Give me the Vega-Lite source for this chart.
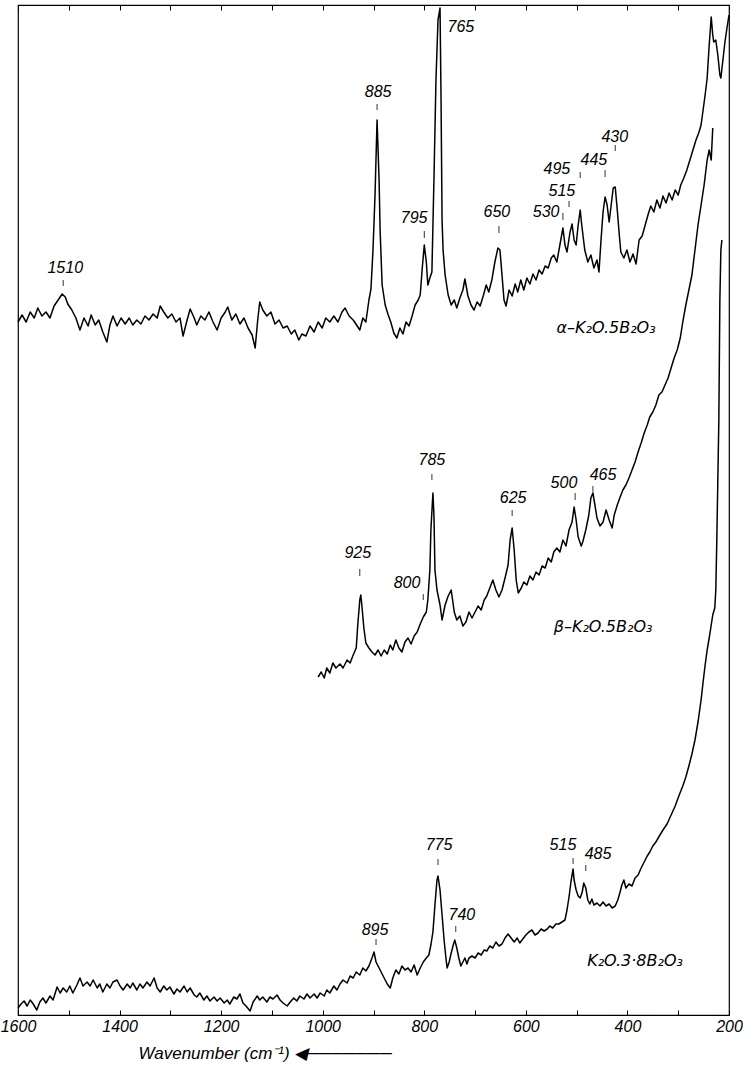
{
"$schema": "https://vega.github.io/schema/vega-lite/v6.json",
"width": 711, "height": 1010,
"autosize": {"type": "none"},
"padding": {"left": 18, "top": 5, "right": 14, "bottom": 51},
"background": "white",
"config": {"view": {"stroke": "black", "strokeWidth": 1.2}, "font": "Liberation Sans, sans-serif"},
"datasets": {
"spec": [
{"s":"a","w":1600,"I":693},{"s":"a","w":1592,"I":700},{"s":"a","w":1584,"I":693},{"s":"a","w":1576,"I":703},{"s":"a","w":1568,"I":697},{"s":"a","w":1561,"I":707},{"s":"a","w":1553,"I":699},{"s":"a","w":1545,"I":703},{"s":"a","w":1537,"I":697},{"s":"a","w":1529,"I":709},{"s":"a","w":1521,"I":715},{"s":"a","w":1513,"I":721},{"s":"a","w":1507,"I":718},{"s":"a","w":1502,"I":711},{"s":"a","w":1494,"I":705},{"s":"a","w":1486,"I":697},{"s":"a","w":1478,"I":685},{"s":"a","w":1470,"I":697},{"s":"a","w":1462,"I":689},{"s":"a","w":1456,"I":700},{"s":"a","w":1448,"I":690},{"s":"a","w":1441,"I":695},{"s":"a","w":1433,"I":683},{"s":"a","w":1425,"I":673},{"s":"a","w":1419,"I":690},{"s":"a","w":1413,"I":699},{"s":"a","w":1405,"I":689},{"s":"a","w":1397,"I":697},{"s":"a","w":1389,"I":691},{"s":"a","w":1381,"I":697},{"s":"a","w":1374,"I":690},{"s":"a","w":1366,"I":695},{"s":"a","w":1358,"I":691},{"s":"a","w":1350,"I":699},{"s":"a","w":1342,"I":695},{"s":"a","w":1334,"I":701},{"s":"a","w":1326,"I":697},{"s":"a","w":1320,"I":709},{"s":"a","w":1313,"I":703},{"s":"a","w":1305,"I":697},{"s":"a","w":1297,"I":701},{"s":"a","w":1289,"I":693},{"s":"a","w":1281,"I":697},{"s":"a","w":1275,"I":679},{"s":"a","w":1267,"I":695},{"s":"a","w":1261,"I":706},{"s":"a","w":1253,"I":697},{"s":"a","w":1248,"I":690},{"s":"a","w":1240,"I":699},{"s":"a","w":1232,"I":695},{"s":"a","w":1224,"I":703},{"s":"a","w":1216,"I":693},{"s":"a","w":1208,"I":685},{"s":"a","w":1200,"I":697},{"s":"a","w":1192,"I":703},{"s":"a","w":1187,"I":708},{"s":"a","w":1179,"I":695},{"s":"a","w":1171,"I":701},{"s":"a","w":1163,"I":691},{"s":"a","w":1155,"I":697},{"s":"a","w":1147,"I":687},{"s":"a","w":1139,"I":680},{"s":"a","w":1133,"I":667},{"s":"a","w":1128,"I":695},{"s":"a","w":1124,"I":713},{"s":"a","w":1118,"I":705},{"s":"a","w":1110,"I":699},{"s":"a","w":1102,"I":703},{"s":"a","w":1094,"I":691},{"s":"a","w":1086,"I":695},{"s":"a","w":1078,"I":687},{"s":"a","w":1070,"I":689},{"s":"a","w":1062,"I":681},{"s":"a","w":1055,"I":685},{"s":"a","w":1047,"I":675},{"s":"a","w":1041,"I":681},{"s":"a","w":1033,"I":679},{"s":"a","w":1025,"I":689},{"s":"a","w":1017,"I":683},{"s":"a","w":1009,"I":693},{"s":"a","w":1001,"I":687},{"s":"a","w":994,"I":697},{"s":"a","w":986,"I":693},{"s":"a","w":978,"I":699},{"s":"a","w":970,"I":693},{"s":"a","w":962,"I":703},{"s":"a","w":956,"I":707},{"s":"a","w":948,"I":699},{"s":"a","w":940,"I":695},{"s":"a","w":932,"I":689},{"s":"a","w":927,"I":685},{"s":"a","w":921,"I":697},{"s":"a","w":915,"I":693},{"s":"a","w":909,"I":715},{"s":"a","w":905,"I":726},{"s":"a","w":901,"I":765},{"s":"a","w":897,"I":820},{"s":"a","w":893,"I":895},{"s":"a","w":889,"I":835},{"s":"a","w":887,"I":785},{"s":"a","w":883,"I":730},{"s":"a","w":877,"I":710},{"s":"a","w":871,"I":700},{"s":"a","w":866,"I":693},{"s":"a","w":860,"I":682},{"s":"a","w":854,"I":677},{"s":"a","w":848,"I":687},{"s":"a","w":842,"I":681},{"s":"a","w":836,"I":693},{"s":"a","w":830,"I":689},{"s":"a","w":824,"I":699},{"s":"a","w":818,"I":710},{"s":"a","w":812,"I":715},{"s":"a","w":808,"I":720},{"s":"a","w":804,"I":747},{"s":"a","w":800,"I":770},{"s":"a","w":796,"I":753},{"s":"a","w":793,"I":730},{"s":"a","w":789,"I":737},{"s":"a","w":785,"I":743},{"s":"a","w":781,"I":835},{"s":"a","w":777,"I":935},{"s":"a","w":773,"I":995},{"s":"a","w":769,"I":1007},{"s":"a","w":767,"I":915},{"s":"a","w":765,"I":795},{"s":"a","w":763,"I":765},{"s":"a","w":759,"I":740},{"s":"a","w":753,"I":720},{"s":"a","w":747,"I":710},{"s":"a","w":741,"I":715},{"s":"a","w":736,"I":707},{"s":"a","w":730,"I":717},{"s":"a","w":724,"I":725},{"s":"a","w":720,"I":736},{"s":"a","w":714,"I":719},{"s":"a","w":708,"I":710},{"s":"a","w":702,"I":705},{"s":"a","w":696,"I":713},{"s":"a","w":690,"I":709},{"s":"a","w":684,"I":719},{"s":"a","w":678,"I":730},{"s":"a","w":673,"I":723},{"s":"a","w":667,"I":735},{"s":"a","w":661,"I":753},{"s":"a","w":655,"I":767},{"s":"a","w":651,"I":765},{"s":"a","w":647,"I":740},{"s":"a","w":643,"I":715},{"s":"a","w":639,"I":709},{"s":"a","w":633,"I":725},{"s":"a","w":627,"I":719},{"s":"a","w":621,"I":731},{"s":"a","w":616,"I":723},{"s":"a","w":610,"I":735},{"s":"a","w":604,"I":725},{"s":"a","w":598,"I":737},{"s":"a","w":592,"I":731},{"s":"a","w":586,"I":741},{"s":"a","w":580,"I":735},{"s":"a","w":574,"I":745},{"s":"a","w":568,"I":741},{"s":"a","w":562,"I":749},{"s":"a","w":556,"I":747},{"s":"a","w":550,"I":757},{"s":"a","w":545,"I":760},{"s":"a","w":539,"I":753},{"s":"a","w":533,"I":770},{"s":"a","w":527,"I":787},{"s":"a","w":523,"I":770},{"s":"a","w":519,"I":763},{"s":"a","w":513,"I":783},{"s":"a","w":509,"I":791},{"s":"a","w":505,"I":775},{"s":"a","w":501,"I":770},{"s":"a","w":497,"I":790},{"s":"a","w":493,"I":805},{"s":"a","w":490,"I":790},{"s":"a","w":484,"I":765},{"s":"a","w":478,"I":753},{"s":"a","w":472,"I":760},{"s":"a","w":466,"I":747},{"s":"a","w":460,"I":755},{"s":"a","w":456,"I":743},{"s":"a","w":452,"I":775},{"s":"a","w":448,"I":803},{"s":"a","w":444,"I":818},{"s":"a","w":440,"I":810},{"s":"a","w":436,"I":793},{"s":"a","w":432,"I":810},{"s":"a","w":428,"I":827},{"s":"a","w":424,"I":828},{"s":"a","w":420,"I":805},{"s":"a","w":416,"I":780},{"s":"a","w":413,"I":763},{"s":"a","w":407,"I":757},{"s":"a","w":401,"I":765},{"s":"a","w":395,"I":753},{"s":"a","w":389,"I":761},{"s":"a","w":383,"I":751},{"s":"a","w":377,"I":775},{"s":"a","w":371,"I":779},{"s":"a","w":365,"I":790},{"s":"a","w":359,"I":801},{"s":"a","w":354,"I":809},{"s":"a","w":348,"I":803},{"s":"a","w":342,"I":815},{"s":"a","w":336,"I":807},{"s":"a","w":330,"I":819},{"s":"a","w":324,"I":812},{"s":"a","w":318,"I":822},{"s":"a","w":312,"I":815},{"s":"a","w":306,"I":825},{"s":"a","w":300,"I":820},{"s":"a","w":295,"I":830},{"s":"a","w":289,"I":837},{"s":"a","w":283,"I":845},{"s":"a","w":277,"I":855},{"s":"a","w":271,"I":865},{"s":"a","w":265,"I":875},{"s":"a","w":259,"I":883},{"s":"a","w":255,"I":890},{"s":"a","w":251,"I":905},{"s":"a","w":247,"I":920},{"s":"a","w":243,"I":937},{"s":"a","w":239,"I":970},{"s":"a","w":235,"I":998},{"s":"a","w":232,"I":980},{"s":"a","w":230,"I":973},{"s":"a","w":226,"I":975},{"s":"a","w":222,"I":960},{"s":"a","w":218,"I":940},{"s":"a","w":216,"I":937},{"s":"a","w":212,"I":955},{"s":"a","w":208,"I":973},{"s":"a","w":204,"I":987},{"s":"a","w":200,"I":1000},
{"s":"b","w":1009,"I":338},{"s":"b","w":1003,"I":343},{"s":"b","w":997,"I":337},{"s":"b","w":992,"I":347},{"s":"b","w":986,"I":342},{"s":"b","w":980,"I":352},{"s":"b","w":974,"I":347},{"s":"b","w":966,"I":351},{"s":"b","w":960,"I":347},{"s":"b","w":952,"I":355},{"s":"b","w":946,"I":352},{"s":"b","w":940,"I":360},{"s":"b","w":934,"I":367},{"s":"b","w":931,"I":390},{"s":"b","w":927,"I":415},{"s":"b","w":925,"I":420},{"s":"b","w":923,"I":410},{"s":"b","w":919,"I":387},{"s":"b","w":915,"I":372},{"s":"b","w":909,"I":367},{"s":"b","w":903,"I":363},{"s":"b","w":897,"I":360},{"s":"b","w":891,"I":365},{"s":"b","w":885,"I":359},{"s":"b","w":879,"I":365},{"s":"b","w":873,"I":361},{"s":"b","w":867,"I":370},{"s":"b","w":862,"I":365},{"s":"b","w":856,"I":375},{"s":"b","w":850,"I":367},{"s":"b","w":844,"I":363},{"s":"b","w":838,"I":373},{"s":"b","w":832,"I":377},{"s":"b","w":826,"I":371},{"s":"b","w":820,"I":379},{"s":"b","w":814,"I":383},{"s":"b","w":808,"I":391},{"s":"b","w":802,"I":398},{"s":"b","w":796,"I":403},{"s":"b","w":793,"I":415},{"s":"b","w":789,"I":445},{"s":"b","w":787,"I":485},{"s":"b","w":783,"I":522},{"s":"b","w":781,"I":500},{"s":"b","w":779,"I":445},{"s":"b","w":775,"I":425},{"s":"b","w":769,"I":410},{"s":"b","w":765,"I":395},{"s":"b","w":759,"I":410},{"s":"b","w":753,"I":419},{"s":"b","w":747,"I":425},{"s":"b","w":741,"I":403},{"s":"b","w":736,"I":395},{"s":"b","w":730,"I":399},{"s":"b","w":724,"I":389},{"s":"b","w":718,"I":393},{"s":"b","w":712,"I":403},{"s":"b","w":706,"I":397},{"s":"b","w":700,"I":403},{"s":"b","w":694,"I":409},{"s":"b","w":688,"I":405},{"s":"b","w":682,"I":415},{"s":"b","w":677,"I":419},{"s":"b","w":671,"I":427},{"s":"b","w":665,"I":435},{"s":"b","w":659,"I":425},{"s":"b","w":653,"I":418},{"s":"b","w":647,"I":425},{"s":"b","w":641,"I":437},{"s":"b","w":635,"I":450},{"s":"b","w":631,"I":475},{"s":"b","w":627,"I":487},{"s":"b","w":623,"I":465},{"s":"b","w":619,"I":435},{"s":"b","w":615,"I":422},{"s":"b","w":609,"I":427},{"s":"b","w":604,"I":433},{"s":"b","w":598,"I":430},{"s":"b","w":592,"I":439},{"s":"b","w":586,"I":435},{"s":"b","w":580,"I":443},{"s":"b","w":574,"I":440},{"s":"b","w":568,"I":449},{"s":"b","w":562,"I":447},{"s":"b","w":556,"I":457},{"s":"b","w":550,"I":453},{"s":"b","w":545,"I":463},{"s":"b","w":539,"I":467},{"s":"b","w":533,"I":463},{"s":"b","w":527,"I":475},{"s":"b","w":521,"I":469},{"s":"b","w":515,"I":485},{"s":"b","w":509,"I":493},{"s":"b","w":505,"I":508},{"s":"b","w":501,"I":495},{"s":"b","w":497,"I":478},{"s":"b","w":491,"I":469},{"s":"b","w":488,"I":473},{"s":"b","w":482,"I":485},{"s":"b","w":476,"I":500},{"s":"b","w":472,"I":517},{"s":"b","w":468,"I":522},{"s":"b","w":464,"I":510},{"s":"b","w":460,"I":497},{"s":"b","w":454,"I":489},{"s":"b","w":448,"I":493},{"s":"b","w":442,"I":505},{"s":"b","w":436,"I":495},{"s":"b","w":430,"I":487},{"s":"b","w":426,"I":500},{"s":"b","w":420,"I":510},{"s":"b","w":415,"I":517},{"s":"b","w":409,"I":525},{"s":"b","w":403,"I":530},{"s":"b","w":397,"I":537},{"s":"b","w":391,"I":545},{"s":"b","w":385,"I":553},{"s":"b","w":379,"I":563},{"s":"b","w":373,"I":572},{"s":"b","w":367,"I":582},{"s":"b","w":361,"I":590},{"s":"b","w":356,"I":598},{"s":"b","w":350,"I":603},{"s":"b","w":344,"I":610},{"s":"b","w":338,"I":620},{"s":"b","w":332,"I":623},{"s":"b","w":326,"I":630},{"s":"b","w":320,"I":637},{"s":"b","w":314,"I":647},{"s":"b","w":308,"I":657},{"s":"b","w":302,"I":665},{"s":"b","w":296,"I":677},{"s":"b","w":291,"I":693},{"s":"b","w":285,"I":710},{"s":"b","w":279,"I":725},{"s":"b","w":273,"I":740},{"s":"b","w":267,"I":765},{"s":"b","w":261,"I":790},{"s":"b","w":255,"I":810},{"s":"b","w":249,"I":830},{"s":"b","w":243,"I":855},{"s":"b","w":239,"I":865},{"s":"b","w":235,"I":855},{"s":"b","w":232,"I":887},
{"s":"c","w":1600,"I":7},{"s":"c","w":1594,"I":11},{"s":"c","w":1588,"I":14},{"s":"c","w":1582,"I":9},{"s":"c","w":1576,"I":15},{"s":"c","w":1570,"I":11},{"s":"c","w":1563,"I":5},{"s":"c","w":1557,"I":13},{"s":"c","w":1551,"I":17},{"s":"c","w":1545,"I":12},{"s":"c","w":1537,"I":19},{"s":"c","w":1531,"I":15},{"s":"c","w":1523,"I":28},{"s":"c","w":1517,"I":22},{"s":"c","w":1511,"I":27},{"s":"c","w":1504,"I":23},{"s":"c","w":1498,"I":29},{"s":"c","w":1492,"I":22},{"s":"c","w":1484,"I":30},{"s":"c","w":1478,"I":37},{"s":"c","w":1472,"I":29},{"s":"c","w":1464,"I":33},{"s":"c","w":1458,"I":29},{"s":"c","w":1452,"I":35},{"s":"c","w":1444,"I":27},{"s":"c","w":1439,"I":31},{"s":"c","w":1433,"I":23},{"s":"c","w":1425,"I":31},{"s":"c","w":1419,"I":27},{"s":"c","w":1413,"I":33},{"s":"c","w":1405,"I":35},{"s":"c","w":1399,"I":29},{"s":"c","w":1393,"I":25},{"s":"c","w":1385,"I":31},{"s":"c","w":1379,"I":27},{"s":"c","w":1374,"I":32},{"s":"c","w":1366,"I":25},{"s":"c","w":1360,"I":31},{"s":"c","w":1354,"I":27},{"s":"c","w":1346,"I":33},{"s":"c","w":1340,"I":29},{"s":"c","w":1332,"I":37},{"s":"c","w":1326,"I":27},{"s":"c","w":1320,"I":23},{"s":"c","w":1313,"I":29},{"s":"c","w":1307,"I":25},{"s":"c","w":1301,"I":28},{"s":"c","w":1293,"I":21},{"s":"c","w":1287,"I":26},{"s":"c","w":1281,"I":23},{"s":"c","w":1273,"I":29},{"s":"c","w":1267,"I":23},{"s":"c","w":1261,"I":27},{"s":"c","w":1253,"I":20},{"s":"c","w":1248,"I":18},{"s":"c","w":1242,"I":22},{"s":"c","w":1234,"I":15},{"s":"c","w":1228,"I":19},{"s":"c","w":1222,"I":14},{"s":"c","w":1214,"I":18},{"s":"c","w":1208,"I":14},{"s":"c","w":1202,"I":17},{"s":"c","w":1194,"I":12},{"s":"c","w":1188,"I":15},{"s":"c","w":1183,"I":11},{"s":"c","w":1175,"I":18},{"s":"c","w":1169,"I":16},{"s":"c","w":1163,"I":21},{"s":"c","w":1157,"I":12},{"s":"c","w":1151,"I":9},{"s":"c","w":1143,"I":4},{"s":"c","w":1137,"I":13},{"s":"c","w":1129,"I":19},{"s":"c","w":1124,"I":15},{"s":"c","w":1118,"I":18},{"s":"c","w":1110,"I":13},{"s":"c","w":1104,"I":18},{"s":"c","w":1098,"I":16},{"s":"c","w":1090,"I":20},{"s":"c","w":1084,"I":15},{"s":"c","w":1078,"I":12},{"s":"c","w":1070,"I":9},{"s":"c","w":1064,"I":13},{"s":"c","w":1057,"I":17},{"s":"c","w":1051,"I":14},{"s":"c","w":1045,"I":19},{"s":"c","w":1037,"I":16},{"s":"c","w":1031,"I":21},{"s":"c","w":1025,"I":17},{"s":"c","w":1017,"I":21},{"s":"c","w":1011,"I":17},{"s":"c","w":1005,"I":22},{"s":"c","w":997,"I":19},{"s":"c","w":992,"I":25},{"s":"c","w":986,"I":22},{"s":"c","w":978,"I":29},{"s":"c","w":972,"I":25},{"s":"c","w":966,"I":31},{"s":"c","w":960,"I":35},{"s":"c","w":952,"I":32},{"s":"c","w":946,"I":39},{"s":"c","w":940,"I":37},{"s":"c","w":934,"I":43},{"s":"c","w":927,"I":40},{"s":"c","w":921,"I":47},{"s":"c","w":915,"I":44},{"s":"c","w":909,"I":49},{"s":"c","w":903,"I":57},{"s":"c","w":899,"I":63},{"s":"c","w":895,"I":53},{"s":"c","w":891,"I":49},{"s":"c","w":885,"I":43},{"s":"c","w":879,"I":37},{"s":"c","w":873,"I":31},{"s":"c","w":867,"I":27},{"s":"c","w":862,"I":37},{"s":"c","w":856,"I":45},{"s":"c","w":850,"I":41},{"s":"c","w":844,"I":49},{"s":"c","w":838,"I":45},{"s":"c","w":832,"I":47},{"s":"c","w":826,"I":43},{"s":"c","w":820,"I":50},{"s":"c","w":814,"I":40},{"s":"c","w":808,"I":47},{"s":"c","w":802,"I":53},{"s":"c","w":796,"I":57},{"s":"c","w":791,"I":60},{"s":"c","w":787,"I":70},{"s":"c","w":783,"I":83},{"s":"c","w":779,"I":110},{"s":"c","w":775,"I":135},{"s":"c","w":773,"I":139},{"s":"c","w":769,"I":125},{"s":"c","w":765,"I":100},{"s":"c","w":761,"I":75},{"s":"c","w":757,"I":55},{"s":"c","w":755,"I":47},{"s":"c","w":751,"I":53},{"s":"c","w":747,"I":62},{"s":"c","w":743,"I":70},{"s":"c","w":740,"I":75},{"s":"c","w":736,"I":67},{"s":"c","w":732,"I":57},{"s":"c","w":728,"I":49},{"s":"c","w":724,"I":53},{"s":"c","w":720,"I":57},{"s":"c","w":716,"I":51},{"s":"c","w":712,"I":57},{"s":"c","w":706,"I":59},{"s":"c","w":700,"I":57},{"s":"c","w":694,"I":62},{"s":"c","w":688,"I":60},{"s":"c","w":682,"I":65},{"s":"c","w":677,"I":64},{"s":"c","w":671,"I":69},{"s":"c","w":665,"I":67},{"s":"c","w":659,"I":73},{"s":"c","w":653,"I":69},{"s":"c","w":647,"I":71},{"s":"c","w":641,"I":77},{"s":"c","w":635,"I":81},{"s":"c","w":629,"I":77},{"s":"c","w":623,"I":73},{"s":"c","w":617,"I":77},{"s":"c","w":612,"I":72},{"s":"c","w":606,"I":76},{"s":"c","w":600,"I":80},{"s":"c","w":594,"I":83},{"s":"c","w":588,"I":85},{"s":"c","w":582,"I":80},{"s":"c","w":576,"I":82},{"s":"c","w":570,"I":86},{"s":"c","w":564,"I":84},{"s":"c","w":558,"I":86},{"s":"c","w":553,"I":89},{"s":"c","w":547,"I":87},{"s":"c","w":541,"I":91},{"s":"c","w":535,"I":91},{"s":"c","w":529,"I":93},{"s":"c","w":523,"I":95},{"s":"c","w":519,"I":105},{"s":"c","w":515,"I":118},{"s":"c","w":511,"I":134},{"s":"c","w":507,"I":146},{"s":"c","w":505,"I":135},{"s":"c","w":501,"I":125},{"s":"c","w":497,"I":119},{"s":"c","w":493,"I":117},{"s":"c","w":489,"I":123},{"s":"c","w":486,"I":132},{"s":"c","w":482,"I":127},{"s":"c","w":478,"I":115},{"s":"c","w":474,"I":111},{"s":"c","w":470,"I":116},{"s":"c","w":466,"I":110},{"s":"c","w":460,"I":112},{"s":"c","w":454,"I":109},{"s":"c","w":448,"I":113},{"s":"c","w":442,"I":109},{"s":"c","w":436,"I":111},{"s":"c","w":430,"I":107},{"s":"c","w":424,"I":109},{"s":"c","w":419,"I":115},{"s":"c","w":415,"I":122},{"s":"c","w":411,"I":130},{"s":"c","w":407,"I":135},{"s":"c","w":403,"I":127},{"s":"c","w":397,"I":131},{"s":"c","w":391,"I":129},{"s":"c","w":385,"I":137},{"s":"c","w":379,"I":140},{"s":"c","w":373,"I":147},{"s":"c","w":367,"I":153},{"s":"c","w":361,"I":159},{"s":"c","w":356,"I":163},{"s":"c","w":350,"I":169},{"s":"c","w":344,"I":173},{"s":"c","w":336,"I":180},{"s":"c","w":330,"I":185},{"s":"c","w":322,"I":191},{"s":"c","w":314,"I":200},{"s":"c","w":306,"I":209},{"s":"c","w":298,"I":220},{"s":"c","w":291,"I":229},{"s":"c","w":285,"I":238},{"s":"c","w":279,"I":249},{"s":"c","w":273,"I":261},{"s":"c","w":267,"I":275},{"s":"c","w":261,"I":293},{"s":"c","w":255,"I":315},{"s":"c","w":251,"I":333},{"s":"c","w":247,"I":350},{"s":"c","w":243,"I":365},{"s":"c","w":239,"I":377},{"s":"c","w":235,"I":390},{"s":"c","w":232,"I":400},{"s":"c","w":228,"I":407},{"s":"c","w":226,"I":425},{"s":"c","w":224,"I":475},{"s":"c","w":222,"I":535},{"s":"c","w":220,"I":595},{"s":"c","w":219,"I":655},{"s":"c","w":218,"I":715},{"s":"c","w":216,"I":765},{"s":"c","w":214,"I":775}
],
"ticks": [
{"w":1511,"I1":729,"I2":735},{"w":893,"I1":905,"I2":911},{"w":800,"I1":777,"I2":784},{"w":653,"I1":782,"I2":789},{"w":527,"I1":795,"I2":802},{"w":515,"I1":808,"I2":814},{"w":493,"I1":837,"I2":843},{"w":444,"I1":838,"I2":845},{"w":424,"I1":864,"I2":870},{"w":927,"I1":439,"I2":446},{"w":802,"I1":415,"I2":421},{"w":785,"I1":535,"I2":541},{"w":627,"I1":499,"I2":505},{"w":503,"I1":515,"I2":522},{"w":468,"I1":523,"I2":529},{"w":895,"I1":70,"I2":76},{"w":773,"I1":150,"I2":156},{"w":738,"I1":83,"I2":89},{"w":507,"I1":151,"I2":157},{"w":482,"I1":144,"I2":150}
],
"labels": [
{"w":1507,"I":747,"t":"1510"},{"w":891,"I":923,"t":"885"},{"w":728,"I":988,"t":"765"},{"w":820,"I":797,"t":"795"},{"w":657,"I":803,"t":"650"},{"w":560,"I":803,"t":"530"},{"w":529,"I":824,"t":"515"},{"w":539,"I":846,"t":"495"},{"w":466,"I":855,"t":"445"},{"w":425,"I":878,"t":"430"},{"w":931,"I":462,"t":"925"},{"w":834,"I":432,"t":"800"},{"w":785,"I":555,"t":"785"},{"w":625,"I":517,"t":"625"},{"w":525,"I":532,"t":"500"},{"w":448,"I":540,"t":"465"},{"w":897,"I":85,"t":"895"},{"w":771,"I":170,"t":"775"},{"w":726,"I":100,"t":"740"},{"w":527,"I":170,"t":"515"},{"w":458,"I":161,"t":"485"}
],
"names": [
{"w":442,"I":687,"t":"α–K₂O.5B₂O₃"},{"w":448,"I":388,"t":"β–K₂O.5B₂O₃"},{"w":385,"I":54,"t":"K₂O.3·8B₂O₃"}
]
},
"layer": [
{"data": {"name": "spec"},
 "mark": {"type": "line", "color": "black", "strokeWidth": 1.5, "strokeJoin": "round"},
 "encoding": {
  "x": {"field": "w", "type": "quantitative",
   "scale": {"domain": [200, 1600], "reverse": true, "nice": false, "zero": false},
   "axis": {"orient": "bottom", "values": [1600,1500,1400,1300,1200,1100,1000,900,800,700,600,500,400,300,200],
    "format": "d", "labelExpr": "datum.value % 200 == 0 ? datum.label : ''",
    "tickSize": -5, "tickColor": "black", "tickWidth": 1, "domainColor": "black", "domainWidth": 1.2,
    "labelFont": "Liberation Sans", "labelFontSize": 16, "labelFontStyle": "italic", "labelColor": "black", "labelPadding": 8,
    "labelOverlap": false, "labelFlush": false, "grid": false,
    "title": "Wavenumber (cm⁻¹)  ◀───────", "titleFont": "Liberation Sans", "titleFontSize": 17, "titleFontStyle": "italic", "titleFontWeight": "normal",
    "titleColor": "black", "titleX": 120, "titleY": 38, "titleAlign": "left", "titleAnchor": "start", "titleBaseline": "middle"}},
  "y": {"field": "I", "type": "quantitative", "scale": {"domain": [0, 1010], "nice": false, "zero": false}, "axis": null},
  "detail": {"field": "s"}
 }},
{"data": {"name": "ticks"},
 "mark": {"type": "rule", "color": "#333", "strokeWidth": 1},
 "encoding": {
  "x": {"field": "w", "type": "quantitative",
   "axis": {"orient": "top", "values": [1600,1500,1400,1300,1200,1100,1000,900,800,700,600,500,400,300,200],
    "labels": false, "tickSize": -5, "tickColor": "black", "domainColor": "black", "domainWidth": 1.2, "grid": false, "title": null}},
  "y": {"field": "I1", "type": "quantitative", "axis": null},
  "y2": {"field": "I2"}
 }},
{"data": {"name": "labels"},
 "mark": {"type": "text", "font": "Liberation Sans", "fontStyle": "italic", "fontSize": 16, "align": "center", "baseline": "middle", "color": "black"},
 "encoding": {
  "x": {"field": "w", "type": "quantitative", "axis": null},
  "y": {"field": "I", "type": "quantitative", "axis": null},
  "text": {"field": "t"}
 }},
{"data": {"name": "names"},
 "mark": {"type": "text", "font": "DejaVu Sans", "fontStyle": "italic", "fontSize": 16, "align": "center", "baseline": "middle", "color": "black"},
 "encoding": {
  "x": {"field": "w", "type": "quantitative", "axis": null},
  "y": {"field": "I", "type": "quantitative", "axis": null},
  "text": {"field": "t"}
 }}
],
"resolve": {"axis": {"x": "independent"}}
}
